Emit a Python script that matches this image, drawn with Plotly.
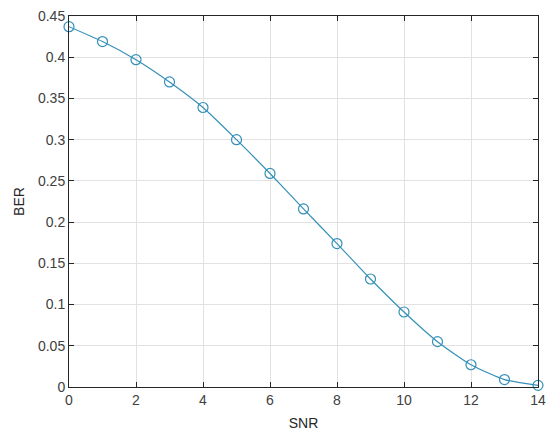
import plotly.graph_objects as go

snr = [0, 1, 2, 3, 4, 5, 6, 7, 8, 9, 10, 11, 12, 13, 14]
ber = [0.437, 0.419, 0.397, 0.370, 0.339, 0.300, 0.259, 0.216, 0.174,
       0.131, 0.091, 0.055, 0.027, 0.009, 0.002]

x_ticks = [0, 2, 4, 6, 8, 10, 12, 14]
y_ticks = [0, 0.05, 0.1, 0.15, 0.2, 0.25, 0.3, 0.35, 0.4, 0.45]
y_labels = ["0", "0.05", "0.1", "0.15", "0.2", "0.25", "0.3", "0.35", "0.4", "0.45"]

line_color = "#3590b8"

fig = go.Figure()
fig.add_trace(go.Scatter(
    x=snr, y=ber, mode="lines+markers",
    line=dict(color=line_color, width=1.2, shape="spline", smoothing=0.6),
    marker=dict(symbol="circle-open", size=10, color=line_color, line=dict(width=1.2)),
    cliponaxis=False,
))

axis_common = dict(
    showline=True, linecolor="#262626", linewidth=1, mirror="ticks",
    ticks="inside", ticklen=5, tickcolor="#262626",
    showgrid=True, gridcolor="#e2e2e2", gridwidth=1,
    zeroline=False, automargin=False,
    tickfont=dict(family="Liberation Sans, Arial", size=14, color="#404040"),
    title_font=dict(family="Liberation Sans, Arial", size=14, color="#262626"),
)

fig.update_xaxes(range=[0, 14], tickvals=x_ticks, title_text="SNR",
                 title_standoff=11, **axis_common)
fig.update_yaxes(range=[0, 0.45], tickvals=y_ticks, ticktext=y_labels,
                 title_text="BER", title_standoff=10, **axis_common)

fig.update_layout(
    width=546, height=434,
    margin=dict(l=69, r=8, t=16, b=47),
    paper_bgcolor="#ffffff", plot_bgcolor="#ffffff",
    showlegend=False,
)

# drop the browser's default body margin so the figure sits at the page corner
fig.write_html("out.html", config={"displayModeBar": False},
               post_script="document.body.style.margin = '0';")
